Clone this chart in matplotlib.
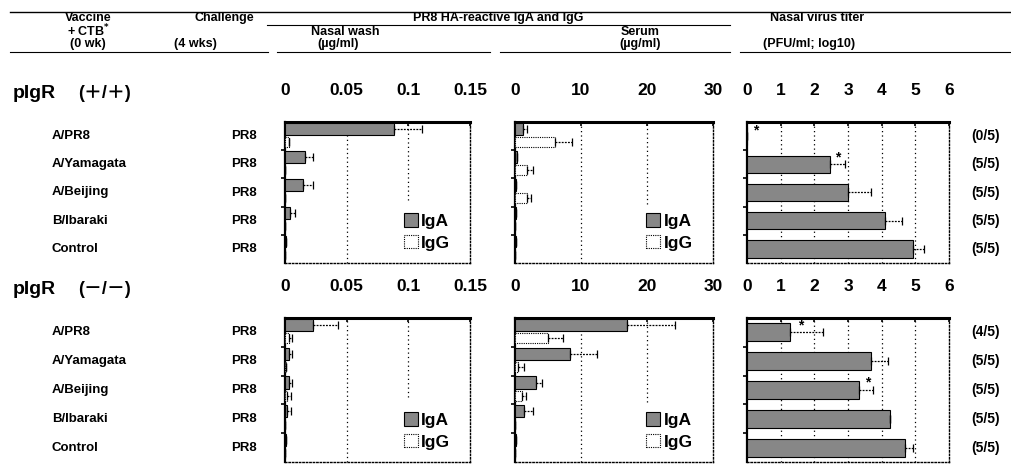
import matplotlib.pyplot as plt
from matplotlib.patches import Patch
from matplotlib.lines import Line2D
import numpy as np

plt.rcParams['font.family'] = ['Liberation Sans', 'Noto Sans CJK JP', 'DejaVu Sans']
plt.rcParams['font.weight'] = 'bold'

vaccines = ['A/PR8', 'A/Yamagata', 'A/Beijing', 'B/Ibaraki', 'Control']
challenge = ['PR8', 'PR8', 'PR8', 'PR8', 'PR8']

# pIgR (+/+)
wt_nasal_iga = [0.088, 0.016, 0.015, 0.004, 0.001]
wt_nasal_iga_err = [0.023, 0.007, 0.008, 0.004, 0.0]
wt_nasal_igg = [0.003, 0.0, 0.0, 0.0, 0.0]
wt_nasal_igg_err = [0.0, 0.0, 0.0, 0.0, 0.0]
wt_serum_iga = [1.2, 0.3, 0.2, 0.1, 0.1]
wt_serum_iga_err = [0.6, 0.0, 0.0, 0.0, 0.0]
wt_serum_igg = [6.1, 1.8, 1.8, 0.0, 0.0]
wt_serum_igg_err = [2.5, 0.9, 0.6, 0.0, 0.0]
wt_titer = [0.0, 2.46, 3.0, 4.1, 4.92]
wt_titer_err = [0.0, 0.45, 0.68, 0.5, 0.33]
wt_frac = ['(0/5)', '(5/5)', '(5/5)', '(5/5)', '(5/5)']

# pIgR (-/-)
ko_nasal_iga = [0.023, 0.003, 0.003, 0.002, 0.001]
ko_nasal_iga_err = [0.020, 0.003, 0.003, 0.003, 0.0]
ko_nasal_igg = [0.003, 0.001, 0.002, 0.0, 0.0]
ko_nasal_igg_err = [0.003, 0.0, 0.003, 0.0, 0.0]
ko_serum_iga = [17.0, 8.3, 3.2, 1.3, 0.2]
ko_serum_iga_err = [7.2, 4.1, 0.9, 1.5, 0.0]
ko_serum_igg = [5.0, 0.5, 1.0, 0.0, 0.0]
ko_serum_igg_err = [2.3, 0.8, 0.7, 0.0, 0.0]
ko_titer = [1.28, 3.68, 3.33, 4.25, 4.69]
ko_titer_err = [0.97, 0.5, 0.41, 0.0, 0.24]
ko_frac = ['(4/5)', '(5/5)', '(5/5)', '(5/5)', '(5/5)']

nasal_ticks = [0, 0.05, 0.1, 0.15]
serum_ticks = [0, 10, 20, 30]
titer_ticks = [0, 1, 2, 3, 4, 5, 6]

W, H = 1012, 465
fig = plt.figure(figsize=(W / 100, H / 100), dpi=100)

def box(x0, x1, y0, y1):
    return [x0 / W, 1 - y1 / H, (x1 - x0) / W, (y1 - y0) / H]

IGA_COL = '#878787'
rows = np.arange(5)
EKW = dict(elinewidth=0.9, capsize=3, capthick=0.9, ecolor='black')


def dot_errors(bars):
    # error bar stems look dotted in the original print
    if bars.errorbar is not None:
        for lc in bars.errorbar.lines[2]:
            lc.set_linestyle((0, (1.5, 1)))


def style(ax, ticks, grid_stop=None):
    ax.set_xlim(ticks[0], ticks[-1])
    ax.set_ylim(4.5, -0.5)
    ax.xaxis.tick_top()
    ax.set_xticks(ticks)
    ax.set_xticklabels([('%g' % t) for t in ticks], fontsize=12.5, fontweight='bold')
    ax.tick_params(axis='x', direction='in', length=3, pad=17, width=1.2)
    ax.set_yticks([0.5, 1.5, 2.5, 3.5])
    ax.set_yticklabels([])
    ax.tick_params(axis='y', direction='out', length=3, width=1.2)
    ax.spines['top'].set_linewidth(2.2)
    ax.spines['left'].set_linewidth(1.6)
    for s in ['right', 'bottom']:
        ax.spines[s].set_linestyle((0, (1, 1.5)))
        ax.spines[s].set_linewidth(1.0)
    for t in ticks[1:-1]:
        ymin = 0
        if grid_stop is not None and t == ticks[-2]:
            ymin = grid_stop
        ax.axvline(t, ymin=ymin, ymax=1, color='black', lw=0.9,
                   ls=(0, (1, 2.5)), zorder=0)


def antibody(ax, iga, iga_err, igg, igg_err):
    z = [0] * 5
    b1 = ax.barh(rows - 0.26, iga, height=0.42, color=IGA_COL, edgecolor='black',
                 linewidth=0.8, xerr=[z, iga_err], error_kw=EKW, zorder=3)
    b2 = ax.barh(rows + 0.2, igg, height=0.36, color='white', edgecolor='black',
                 linewidth=0.8, linestyle=(0, (1, 1)), xerr=[z, igg_err],
                 error_kw=EKW, zorder=3)
    dot_errors(b1)
    dot_errors(b2)
    handles = [Patch(facecolor=IGA_COL, edgecolor='black', lw=0.8),
               Patch(facecolor='white', edgecolor='black', lw=0.8, ls=(0, (1, 1)))]
    ax.legend(handles, ['IgA', 'IgG'], loc='lower right', frameon=False,
              prop=dict(size=12.5, weight='bold'), handlelength=0.8, handleheight=0.8,
              handletextpad=0.2, labelspacing=0.35, borderaxespad=0.3,
              bbox_to_anchor=(0.96, 0.0))


def titer(ax, vals, err, frac):
    z = [0] * 5
    b = ax.barh(rows, vals, height=0.62, color=IGA_COL, edgecolor='black', linewidth=0.8,
                xerr=[z, err], error_kw=EKW, zorder=3)
    dot_errors(b)
    tr = ax.get_yaxis_transform()
    for i, f in enumerate(frac):
        ax.text(1.18, i, f, transform=tr, ha='center', va='center', fontsize=10,
                fontweight='bold', clip_on=False)


def row_labels(ax):
    tr = ax.get_yaxis_transform()
    for i in rows:
        ax.text(-1.26, i, vaccines[i], transform=tr, ha='left', va='center',
                fontsize=9.5, fontweight='bold', clip_on=False)
        ax.text(-0.15, i, challenge[i], transform=tr, ha='right', va='center',
                fontsize=9.5, fontweight='bold', clip_on=False)


panels = [
    (122, 263, wt_nasal_iga, wt_nasal_iga_err, wt_nasal_igg, wt_nasal_igg_err,
     wt_serum_iga, wt_serum_iga_err, wt_serum_igg, wt_serum_igg_err,
     wt_titer, wt_titer_err, wt_frac, '(\uff0b/\uff0b)'),
    (318, 462, ko_nasal_iga, ko_nasal_iga_err, ko_nasal_igg, ko_nasal_igg_err,
     ko_serum_iga, ko_serum_iga_err, ko_serum_igg, ko_serum_igg_err,
     ko_titer, ko_titer_err, ko_frac, '(\uff0d/\uff0d)'),
]

axes_t = []
for (y0, y1, na, nae, ng, nge, sa, sae, sg, sge, tv, te, fr, geno) in panels:
    ax1 = fig.add_axes(box(285, 470, y0, y1))
    style(ax1, nasal_ticks, grid_stop=0.45)
    antibody(ax1, na, nae, ng, nge)
    row_labels(ax1)
    ax2 = fig.add_axes(box(515, 713, y0, y1))
    style(ax2, serum_ticks, grid_stop=0.42)
    antibody(ax2, sa, sae, sg, sge)
    ax3 = fig.add_axes(box(747, 949, y0, y1))
    style(ax3, titer_ticks)
    titer(ax3, tv, te, fr)
    axes_t.append(ax3)
    fig.text(13 / W, 1 - (y0 - 28) / H, 'pIgR', ha='left', va='center',
             fontsize=14, fontweight='bold')
    fig.text(78 / W, 1 - (y0 - 28) / H, geno, ha='left', va='center',
             fontsize=13, fontweight='bold')

# significance marks
for ax, x, y in [(axes_t[0], 0.25, -0.2), (axes_t[0], 2.7, 0.75),
                 (axes_t[1], 1.6, -0.25), (axes_t[1], 3.6, 1.75)]:
    ax.text(x, y, '*', ha='center', va='center', fontsize=10, fontweight='bold')

# header
hdr = dict(fontsize=9, fontweight='bold', va='center')
def fy(y):
    return 1 - y / H

fig.add_artist(Line2D([10 / W, 1], [fy(12), fy(12)], color='black', lw=1.0))
for x0, x1 in [(10, 268), (277, 490), (500, 730), (740, 1012)]:
    fig.add_artist(Line2D([x0 / W, x1 / W], [fy(52), fy(52)], color='black', lw=0.8))
fig.add_artist(Line2D([267 / W, 730 / W], [fy(25), fy(25)], color='black', lw=0.8))

fig.text(88 / W, fy(18), 'Vaccine', ha='center', **hdr)
fig.text(88 / W, fy(31), '+ CTB$^{*}$', ha='center', **hdr)
fig.text(88 / W, fy(44), '(0 wk)', ha='center', **hdr)
fig.text(224 / W, fy(18), 'Challenge', ha='center', **hdr)
fig.text(174 / W, fy(44), '(4 wks)', ha='left', **hdr)
fig.text(498 / W, fy(18), 'PR8 HA-reactive IgA and IgG', ha='center', **hdr)
fig.text(345 / W, fy(32), 'Nasal wash', ha='center', **hdr)
fig.text(338 / W, fy(44), '(\u00b5g/ml)', ha='center', **hdr)
fig.text(640 / W, fy(32), 'Serum', ha='center', **hdr)
fig.text(640 / W, fy(44), '(\u00b5g/ml)', ha='center', **hdr)
fig.text(817 / W, fy(18), 'Nasal virus titer', ha='center', **hdr)
fig.text(809 / W, fy(44), '(PFU/ml; log10)', ha='center', **hdr)

fig.savefig('out.png', dpi=100)
